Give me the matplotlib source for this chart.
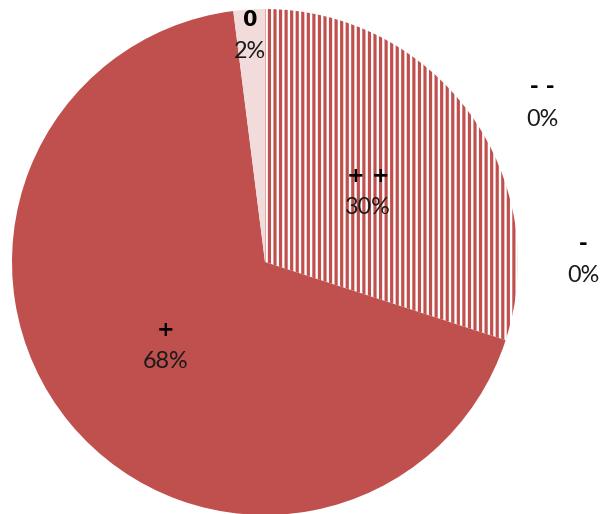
import matplotlib
matplotlib.use("Agg")
import matplotlib.pyplot as plt

# data
categories = ["+ +", "- -", "-", "+", "0"]
values = [30, 0, 0, 68, 2]
pct_labels = ["30%", "0%", "0%", "68%", "2%"]

# style / layout
RED = "#C0504D"
PINK = "#F2DCDB"
W, H = 601, 514
CX, CY, R = 265, H - 262, 253
# label centre positions (pixels, top-origin) for name / percentage
label_pos = [(368, 176), (542, 87), (583, 244), (166, 330), (250, 20)]
LINE_GAP = 32

plt.rcParams["hatch.linewidth"] = 2.3
fig = plt.figure(figsize=(W / 100, H / 100), dpi=100)
ax = fig.add_axes([0, 0, 1, 1])

wedges, _ = ax.pie(values, startangle=90, counterclock=False,
                   center=(CX, CY), radius=R,
                   colors=["white", RED, RED, RED, PINK],
                   wedgeprops=dict(linewidth=0))
wedges[0].set_hatch("|||")
wedges[0].set_edgecolor(RED)
wedges[0].set_linewidth(0)

ax.set_xlim(0, W)
ax.set_ylim(0, H)
ax.set_aspect("equal")
ax.axis("off")

for name, pct, (x, y) in zip(categories, pct_labels, label_pos):
    ax.text(x, H - y, name, ha="center", va="center", fontsize=15,
            fontweight="bold", family="DejaVu Sans", color="black")
    ax.text(x, H - y - LINE_GAP, pct, ha="center", va="center",
            fontsize=16.8, family="Lato", color="#1a1a1a")

fig.savefig("out.png", dpi=100)
